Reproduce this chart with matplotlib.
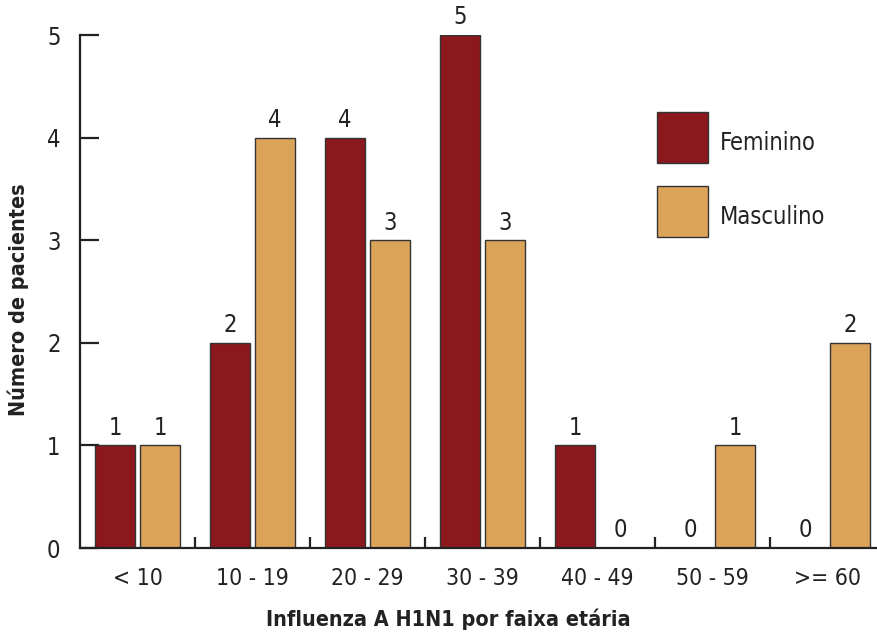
import numpy as np
import matplotlib
matplotlib.use("Agg")
import matplotlib.pyplot as plt
from matplotlib.patches import Rectangle

# faixa etaria x numero de pacientes
faixas = ["< 10", "10 - 19", "20 - 29", "30 - 39", "40 - 49", "50 - 59", ">= 60"]
feminino = [1, 2, 4, 5, 1, 0, 0]
masculino = [1, 4, 3, 3, 0, 1, 2]

cor_fem = "#8B181D"
cor_mas = "#DBA35A"
escuro = "#222222"

plt.rcParams['font.family'] = ['DejaVu Sans']
plt.rcParams['font.stretch'] = 'condensed'

fig = plt.figure(figsize=(8.77, 6.34), dpi=100)
ax = fig.add_axes([80/877, 86/634, 797/877, (548-35)/634])

x = np.arange(len(faixas))
w = 0.35
off = 0.196
b1 = ax.bar(x - off, feminino, w, color=cor_fem, edgecolor="#333333", linewidth=1)
b2 = ax.bar(x + off, masculino, w, color=cor_mas, edgecolor="#333333", linewidth=1)

for bars, vals in [(b1, feminino), (b2, masculino)]:
    for r, v in zip(bars, vals):
        ax.text(r.get_x() + r.get_width()/2, v + 0.055, str(v), ha="center", va="bottom",
                fontsize=17, color=escuro, clip_on=False)

ax.set_xlim(-0.5, (877-137.5)/115)
ax.set_ylim(0, 5)

ax.spines['top'].set_visible(False)
ax.spines['right'].set_visible(False)
for s in ['left', 'bottom']:
    ax.spines[s].set_linewidth(1.6)
    ax.spines[s].set_color(escuro)

ax.set_yticks(range(6))
ax.tick_params(axis='y', direction='in', length=14, width=1.6, color=escuro,
               labelsize=17, pad=14, labelcolor=escuro)
ax.set_xticks(x)
ax.set_xticklabels(faixas)
ax.set_xticks(np.arange(0.5, 6, 1), minor=True)
ax.tick_params(axis='x', which='major', length=0, labelsize=16.5, pad=14, labelcolor=escuro)
ax.tick_params(axis='x', which='minor', direction='in', length=8, width=1.6, color=escuro)

fig.text(448/877, 1 - 619/634, "Influenza A H1N1 por faixa etária", fontsize=15.5,
         fontweight="bold", ha="center", va="center", color=escuro)
fig.text(18/877, 1 - 300/634, "Número de pacientes", fontsize=15.5, fontweight="bold",
         rotation=90, ha="center", va="center", color=escuro)

# legenda
for cor, nome, topo in [(cor_fem, "Feminino", 112), (cor_mas, "Masculino", 186)]:
    fig.add_artist(Rectangle((657/877, 1 - (topo + 51)/634), 51/877, 51/634,
                             transform=fig.transFigure, facecolor=cor, edgecolor="#333333",
                             linewidth=1))
    fig.text(720/877, 1 - (topo + 31)/634, nome, fontsize=17, ha="left", va="center",
             color=escuro)

fig.savefig("out.png", dpi=100)
